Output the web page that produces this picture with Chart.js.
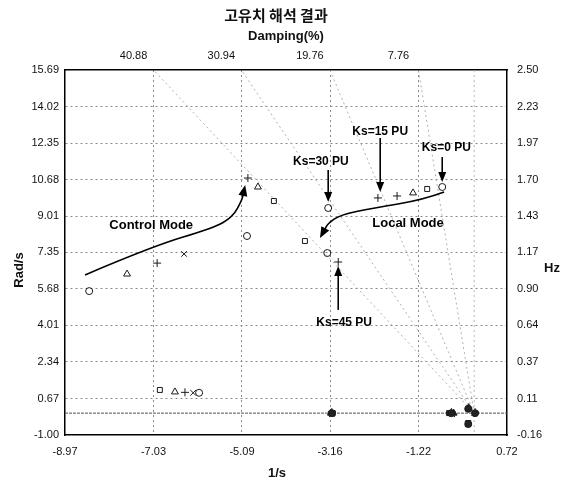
<!DOCTYPE html>
<html>
<head>
<meta charset="utf-8">
<script src="https://cdn.jsdelivr.net/npm/chart.js@4"></script>
<style>
  html, body { margin: 0; padding: 0; background: #fff; }
  #wrap { width: 563px; height: 484px; }
</style>
</head>
<body>
<div id="wrap"><canvas id="c" width="563" height="484"></canvas></div>
<script>
// Eigenvalue map: real part (1/s) vs imaginary part (rad/s)
const xTickLabels = ['-8.97', '-7.03', '-5.09', '-3.16', '-1.22', '0.72'];
const yTickLabels = ['-1.00', '0.67', '2.34', '4.01', '5.68', '7.35', '9.01', '10.68', '12.35', '14.02', '15.69'];
const hzTickLabels = ['-0.16', '0.11', '0.37', '0.64', '0.90', '1.17', '1.43', '1.70', '1.97', '2.23', '2.50'];
const dampingLabels = ['40.88', '30.94', '19.76', '7.76'];

// Eigenvalues grouped by marker [real, imag]
const circlePts = [[-8.44, 5.58], [-4.98, 8.10], [-3.20, 9.38], [-3.22, 7.32], [-0.70, 10.34],
                   [-6.03, 0.93], [-3.12, 0], [-0.50, 0], [-0.13, 0.20], [0.02, 0], [-0.13, -0.50]];
const squarePts = [[-4.39, 9.70], [-3.71, 7.87], [-1.03, 10.25], [-6.89, 1.06],
                   [-3.10, 0], [-0.55, 0], [-0.13, -0.45]];
const trianglePts = [[-7.61, 6.36], [-4.74, 10.34], [-1.34, 10.07], [-6.56, 0.97],
                     [-3.14, 0], [-0.45, 0], [-0.12, 0.25]];
const plusPts = [[-6.95, 6.86], [-4.96, 10.75], [-2.98, 6.91], [-2.11, 9.84], [-1.69, 9.93],
                 [-6.34, 0.95], [-3.12, 0.05], [-0.50, 0.05], [0.02, 0.05]];
const crossPts = [[-6.36, 7.28], [-6.16, 0.93], [-3.12, -0.05], [-0.48, -0.05], [-0.14, -0.50], [0.00, 0]];

// Mode trajectories and stabilizer-gain callouts, in axis units
const controlPath = [[-8.53, 6.32], [-7.04, 7.64], [-5.72, 8.46], [-5.29, 8.97], [-5.09, 9.75], [-5.02, 10.43]];
const localPath = [[-0.66, 10.11], [-1.12, 9.75], [-2.22, 9.38], [-2.94, 9.06], [-3.20, 8.69], [-3.38, 8.01]];
const modeNotes = [['Control Mode', -7.08, 8.60], ['Local Mode', -1.45, 8.69]];
const gainNotes = [
  // text, text x, text y, arrow x, arrow from y, arrow to y
  ['Ks=30 PU', -3.36, 11.48, -3.20, 11.12, 9.65],
  ['Ks=15 PU', -2.06, 12.85, -2.06, 12.58, 10.11],
  ['Ks=0 PU', -0.61, 12.12, -0.70, 11.71, 10.57],
  ['Ks=45 PU', -2.85, 4.12, -2.98, 4.72, 6.73]
];

const xTicks = xTickLabels.map(Number);
const yTicks = yTickLabels.map(Number);
const xMin = xTicks[0], xMax = xTicks[xTicks.length - 1];
const yMin = yTicks[0], yMax = yTicks[yTicks.length - 1];

// real part where a constant-damping ray meets the top edge
const sigmaAtTop = z => { const r = Number(z) / 100; return -yMax * r / Math.sqrt(1 - r * r); };

const FONT = '"Liberation Sans", Arial, sans-serif';
const INK = '#111';

// real (non-oscillatory) roots pile up on the real axis and print as solid blobs
const markerFill = ctx => (ctx.raw && Math.abs(ctx.raw.y) < 0.6) ? '#222' : 'rgba(0,0,0,0)';

function mk(pts, style, radius) {
  return {
    data: pts.map(p => ({ x: p[0], y: p[1] })),
    pointStyle: style,
    pointRadius: radius,
    pointHoverRadius: radius,
    pointBorderWidth: 1,
    borderColor: '#1a1a1a',
    backgroundColor: 'rgba(0,0,0,0)',
    pointBackgroundColor: markerFill,
    showLine: false
  };
}

function arrowHead(ctx, fx, fy, tx, ty, len, half) {
  const a = Math.atan2(ty - fy, tx - fx);
  ctx.beginPath();
  ctx.moveTo(tx, ty);
  ctx.lineTo(tx - len * Math.cos(a) + half * Math.sin(a), ty - len * Math.sin(a) - half * Math.cos(a));
  ctx.lineTo(tx - len * Math.cos(a) - half * Math.sin(a), ty - len * Math.sin(a) + half * Math.cos(a));
  ctx.closePath();
  ctx.fill();
}

function curve(ctx, pts) {
  ctx.beginPath();
  ctx.moveTo(pts[0][0], pts[0][1]);
  for (let i = 1; i < pts.length - 1; i++) {
    const mx = (pts[i][0] + pts[i + 1][0]) / 2, my = (pts[i][1] + pts[i + 1][1]) / 2;
    ctx.quadraticCurveTo(pts[i][0], pts[i][1], mx, my);
  }
  const n = pts.length;
  ctx.lineTo(pts[n - 1][0], pts[n - 1][1]);
  ctx.stroke();
}

const overlay = {
  id: 'overlay',
  beforeDatasetsDraw(chart) {
    const { ctx, chartArea: a, scales: { x, y } } = chart;
    ctx.save();
    ctx.beginPath();
    ctx.rect(a.left, a.top, a.right - a.left, a.bottom - a.top);
    ctx.clip();
    const ox = x.getPixelForValue(0), oy = y.getPixelForValue(0);
    // constant-damping rays
    ctx.strokeStyle = '#b0b0b0';
    ctx.lineWidth = 1;
    ctx.setLineDash([2, 3]);
    dampingLabels.forEach(z => {
      ctx.beginPath();
      ctx.moveTo(ox, oy);
      ctx.lineTo(x.getPixelForValue(sigmaAtTop(z)), y.getPixelForValue(yMax));
      ctx.stroke();
    });
    // imaginary axis
    ctx.strokeStyle = '#b5b5b5';
    ctx.beginPath(); ctx.moveTo(ox, a.top); ctx.lineTo(ox, a.bottom); ctx.stroke();
    // real axis
    ctx.strokeStyle = '#555';
    ctx.setLineDash([3, 1]);
    ctx.beginPath(); ctx.moveTo(a.left, oy); ctx.lineTo(a.right, oy); ctx.stroke();
    ctx.restore();
  },
  afterDatasetsDraw(chart) {
    const { ctx, scales: { x, y } } = chart;
    const px = p => [x.getPixelForValue(p[0]), y.getPixelForValue(p[1])];
    ctx.save();
    ctx.strokeStyle = '#000';
    ctx.fillStyle = '#000';
    ctx.lineWidth = 1.6;
    [controlPath, localPath].forEach(path => {
      const pts = path.map(px);
      const n = pts.length;
      curve(ctx, pts.slice(0, n - 1).concat([[pts[n - 1][0] * 0.4 + pts[n - 2][0] * 0.6, pts[n - 1][1] * 0.4 + pts[n - 2][1] * 0.6]]));
      arrowHead(ctx, pts[n - 2][0], pts[n - 2][1], pts[n - 1][0], pts[n - 1][1], 11, 4.5);
    });
    gainNotes.forEach(g => {
      const ax = x.getPixelForValue(g[3]);
      const y0 = y.getPixelForValue(g[4]), y1 = y.getPixelForValue(g[5]);
      const dir = Math.sign(y1 - y0);
      ctx.lineWidth = 1.6;
      ctx.beginPath(); ctx.moveTo(ax, y0); ctx.lineTo(ax, y1 - dir * 8); ctx.stroke();
      arrowHead(ctx, ax, y0, ax, y1, 10, 4);
    });
    ctx.font = 'bold 13px ' + FONT;
    ctx.textAlign = 'center';
    ctx.textBaseline = 'middle';
    modeNotes.forEach(m => ctx.fillText(m[0], x.getPixelForValue(m[1]), y.getPixelForValue(m[2])));
    ctx.font = 'bold 12px ' + FONT;
    gainNotes.forEach(g => ctx.fillText(g[0], x.getPixelForValue(g[1]), y.getPixelForValue(g[2])));
    ctx.restore();
  },
  afterDraw(chart) {
    const { ctx } = chart;
    ctx.save();
    ctx.fillStyle = INK;
    ctx.textAlign = 'center';
    ctx.textBaseline = 'middle';
    ctx.font = 'bold 15px "Noto Sans CJK KR", sans-serif';
    ctx.fillText('고유치 해석 결과', 276, 15);
    ctx.font = 'bold 13px ' + FONT;
    ctx.fillText('Damping(%)', 286, 36);
    ctx.fillText('1/s', 277, 473);
    ctx.fillText('Hz', 552, 268);
    ctx.translate(19, 270);
    ctx.rotate(-Math.PI / 2);
    ctx.fillText('Rad/s', 0, 0);
    ctx.restore();
  }
};

const tickFont = { family: FONT, size: 11 };
const gridDotted = (ctx) => (ctx.index === 0 || ctx.index === ctx.chart.scales[ctx.scale.id].ticks.length - 1) ? 'rgba(0,0,0,0)' : '#8a8a8a';

new Chart(document.getElementById('c'), {
  type: 'scatter',
  data: {
    datasets: [
      mk(circlePts, 'circle', 3.5),
      mk(squarePts, 'rect', 3.5),
      mk(trianglePts, 'triangle', 4),
      mk(plusPts, 'cross', 4),
      mk(crossPts, 'crossRot', 4)
    ]
  },
  options: {
    responsive: false,
    animation: false,
    layout: { padding: 0 },
    plugins: { legend: { display: false }, tooltip: { enabled: false } },
    scales: {
      x: {
        type: 'linear', position: 'bottom', min: xMin, max: xMax,
        afterBuildTicks: ax => { ax.ticks = xTicks.map(v => ({ value: v })); },
        afterFit: ax => { ax.height = 49; },
        ticks: { font: tickFont, color: INK, padding: 10, maxRotation: 0, autoSkip: false,
                 callback: (v, i) => xTickLabels[i] },
        grid: { color: gridDotted, lineWidth: 1, drawTicks: false },
        border: { display: true, color: '#000', width: 1.5, dash: [2, 3] }
      },
      x2: {
        type: 'linear', position: 'top', min: xMin, max: xMax,
        afterBuildTicks: ax => { ax.ticks = dampingLabels.map(z => ({ value: sigmaAtTop(z) })); },
        afterFit: ax => { ax.height = 70; },
        ticks: { font: tickFont, color: INK, padding: 7, maxRotation: 0, autoSkip: false, labelOffset: -20,
                 callback: (v, i) => dampingLabels[i] },
        grid: { display: false, drawTicks: false },
        border: { display: true, color: '#000', width: 1.5 }
      },
      y: {
        type: 'linear', position: 'left', min: yMin, max: yMax,
        afterBuildTicks: ax => { ax.ticks = yTicks.map(v => ({ value: v })); },
        afterFit: ax => { ax.width = 65; },
        ticks: { font: tickFont, color: INK, padding: 6, autoSkip: false,
                 callback: (v, i) => yTickLabels[i] },
        grid: { color: gridDotted, lineWidth: 1, drawTicks: false },
        border: { display: true, color: '#000', width: 1.5, dash: [2, 3] }
      },
      y2: {
        type: 'linear', position: 'right', min: yMin, max: yMax,
        afterBuildTicks: ax => { ax.ticks = yTicks.map(v => ({ value: v })); },
        afterFit: ax => { ax.width = 56; },
        ticks: { font: tickFont, color: INK, padding: 10, autoSkip: false,
                 callback: (v, i) => hzTickLabels[i] },
        grid: { display: false, drawTicks: false },
        border: { display: true, color: '#000', width: 1.5 }
      }
    }
  },
  plugins: [overlay]
});
</script>
</body>
</html>
